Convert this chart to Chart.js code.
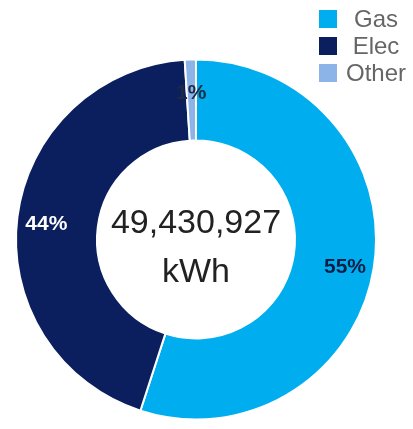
<!DOCTYPE html>
<html>
<head>
<meta charset="utf-8">
<script src="https://cdn.jsdelivr.net/npm/chart.js@4.4.1/dist/chart.umd.min.js"></script>
<style>
  html, body { margin: 0; padding: 0; background: #fff; }
  canvas { display: block; }
</style>
</head>
<body>
<canvas id="energy-chart" width="413" height="429"></canvas>
<script>
const categories = ["Gas", "Elec", "Other"];
const shares = [55, 44, 1];
const colors = ["#00aeef", "#0b1f5e", "#8db4e8"];
const labelColors = ["#0a1f45", "#ffffff", "#1c2a44"];
const totalText = "49,430,927";
const unitText = "kWh";

const FONT = "'Liberation Sans', Arial, Helvetica, sans-serif";

// slice labels + centre total + legend in the top right
const overlay = {
  id: "overlay",
  afterDatasetsDraw(chart) {
    const ctx = chart.ctx;
    const arcs = chart.getDatasetMeta(0).data;

    ctx.save();
    ctx.textAlign = "center";
    ctx.textBaseline = "middle";
    ctx.font = "bold 21px " + FONT;
    arcs.forEach((arc, i) => {
      const p = arc.getProps(["x", "y", "startAngle", "endAngle", "innerRadius", "outerRadius"], true);
      const mid = (p.startAngle + p.endAngle) / 2;
      const r = p.innerRadius + (p.outerRadius - p.innerRadius) * 0.64;
      ctx.fillStyle = labelColors[i];
      ctx.fillText(shares[i] + "%", p.x + Math.cos(mid) * r, p.y + Math.sin(mid) * r + 4);
    });

    const c = arcs[0];
    ctx.fillStyle = "#222";
    ctx.font = "34px " + FONT;
    ctx.fillText(totalText, c.x, c.y - 16);
    ctx.fillText(unitText, c.x, c.y + 33);

    // legend
    ctx.font = "24px " + FONT;
    categories.forEach((name, i) => {
      const y = 19 + i * 27;
      ctx.fillStyle = colors[i];
      ctx.fillRect(319, y - 9, 18, 18);
      ctx.fillStyle = "#666";
      ctx.fillText(name, 376, y + 1);
    });
    ctx.restore();
  }
};

new Chart(document.getElementById("energy-chart"), {
  type: "doughnut",
  data: {
    labels: categories,
    datasets: [{
      data: shares,
      backgroundColor: colors,
      borderColor: "#ffffff",
      borderWidth: 2
    }]
  },
  options: {
    responsive: false,
    animation: false,
    devicePixelRatio: 1,
    cutout: "55%",
    layout: { padding: { left: 15, right: 36, top: 58, bottom: 8 } },
    plugins: {
      legend: { display: false },
      tooltip: { enabled: false }
    }
  },
  plugins: [overlay]
});
</script>
</body>
</html>
